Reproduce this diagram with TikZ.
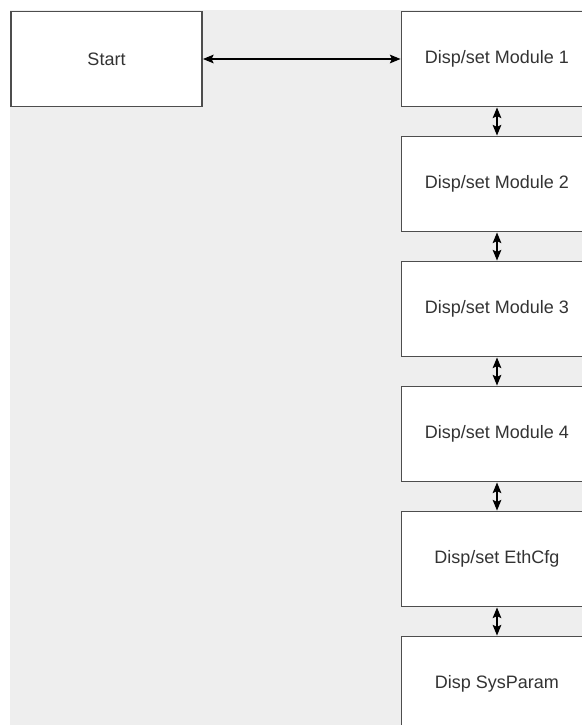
\documentclass[tikz,border=0pt]{standalone}
\usepackage{fontspec}
\setmainfont{Liberation Sans}
\usetikzlibrary{arrows.meta}
\definecolor{canvas}{HTML}{EEEEEE}
\definecolor{boxline}{HTML}{4D4D4D}
\definecolor{labeltext}{HTML}{333333}
\begin{document}
\begin{tikzpicture}[
    x=0.75pt, y=-0.75pt,
    every node/.style={font=\fontsize{13.5}{16}\selectfont, text=labeltext},
    menubox/.style={draw=boxline, fill=white, line width=1.2pt, minimum width=143.5pt, minimum height=71.5pt, inner sep=0pt},
    linkarrow/.style={{Stealth[length=8pt,width=6.5pt,inset=1.5pt]}-{Stealth[length=8pt,width=6.5pt,inset=1.5pt]}, line width=1pt, black},
]
\useasboundingbox (0,0) rectangle (582,725);
\clip (0,0) rectangle (582,725);
\fill[canvas] (10,10) rectangle (582,725);

% Start box (left)
\node[menubox] (start) at (106.5, 59) {Start};

% Module column (right)
\node[menubox] (mod1) at (497, 59) {Disp/set Module 1};
\node[menubox] (mod2) at (497, 184) {Disp/set Module 2};
\node[menubox] (mod3) at (497, 309) {Disp/set Module 3};
\node[menubox] (mod4) at (497, 434) {Disp/set Module 4};
\node[menubox] (eth) at (497, 559) {Disp/set EthCfg};
\node[menubox] (sys) at (497, 684) {Disp SysParam};

% Links
\draw[linkarrow] (start) -- (mod1);
\draw[linkarrow] (mod1) -- (mod2);
\draw[linkarrow] (mod2) -- (mod3);
\draw[linkarrow] (mod3) -- (mod4);
\draw[linkarrow] (mod4) -- (eth);
\draw[linkarrow] (eth) -- (sys);
\end{tikzpicture}
\end{document}
